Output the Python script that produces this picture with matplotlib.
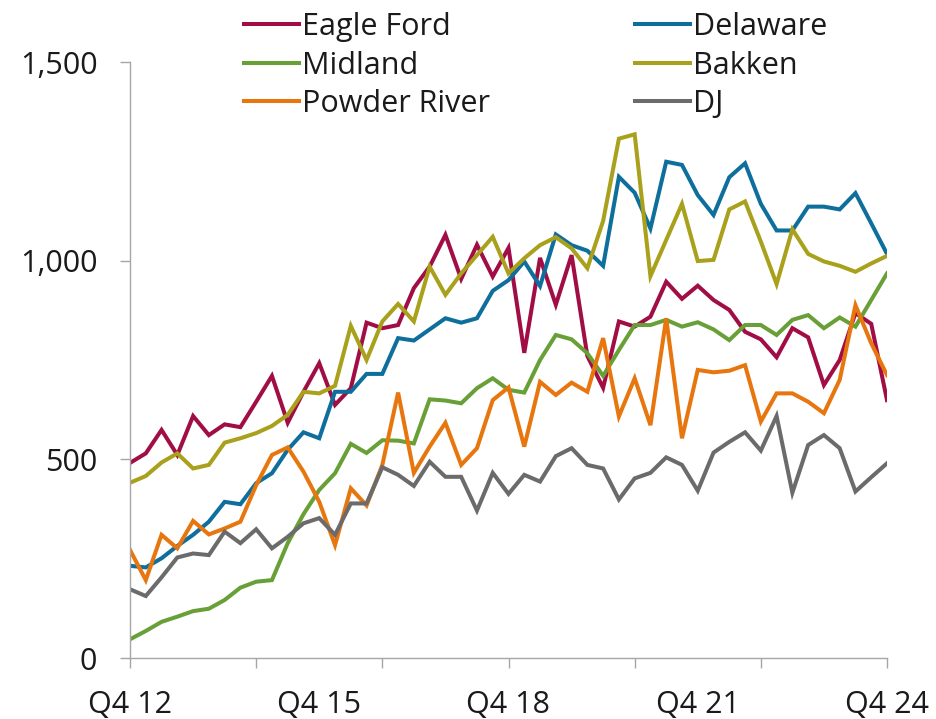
import numpy as np
import matplotlib
matplotlib.use("Agg")
import matplotlib.pyplot as plt
from matplotlib.ticker import FuncFormatter

plt.rcParams["font.family"] = ["Open Sans", "DejaVu Sans"]

quarters = [f"Q{q} {y % 100:02d}" for y in range(2012, 2025) for q in range(1, 5)][3:]
tick_labels = ["Q4 12", "Q4 15", "Q4 18", "Q4 21", "Q4 24"]

eagle_ford = [491, 515, 574, 511, 609, 561, 588, 581, 645, 710,
              592, 670, 742, 637, 679, 844, 830, 838, 931, 985,
              1065, 954, 1040, 960, 1032, 768, 1007, 889, 1014, 760,
              680, 847, 834, 859, 947, 904, 937, 901, 876, 821,
              802, 757, 830, 807, 687, 750, 868, 841, 649]
delaware = [232, 228, 251, 282, 310, 343, 393, 387, 440, 465,
            524, 568, 553, 670, 670, 715, 715, 805, 799, 827,
            855, 844, 855, 924, 951, 998, 936, 1066, 1039, 1025,
            987, 1211, 1171, 1081, 1249, 1241, 1165, 1115, 1210, 1245,
            1143, 1076, 1076, 1136, 1136, 1129, 1170, 1094, 1017]
midland = [47, 68, 91, 104, 118, 124, 146, 177, 192, 196,
           289, 362, 423, 465, 539, 516, 548, 547, 540, 651,
           648, 641, 679, 704, 675, 668, 750, 813, 802, 767,
           710, 775, 838, 838, 851, 834, 845, 827, 800, 838,
           838, 813, 851, 863, 830, 857, 834, 901, 968]
bakken = [441, 458, 492, 515, 477, 486, 542, 553, 566, 584,
          612, 670, 666, 685, 836, 750, 847, 891, 847, 985,
          914, 968, 1014, 1060, 968, 1006, 1039, 1059, 1031, 981,
          1100, 1307, 1318, 961, 1052, 1143, 999, 1002, 1129, 1149,
          1048, 941, 1079, 1017, 998, 987, 972, 993, 1012]
powder_river = [272, 196, 310, 276, 345, 311, 326, 343, 435, 511,
                530, 469, 393, 284, 427, 384, 486, 668, 466, 532,
                592, 486, 528, 649, 681, 532, 695, 662, 693, 670,
                805, 608, 704, 586, 855, 553, 725, 719, 723, 737,
                595, 666, 666, 645, 616, 700, 888, 792, 712]
dj = [173, 156, 203, 253, 263, 259, 318, 289, 324, 276,
      305, 339, 352, 310, 389, 389, 480, 461, 433, 494,
      456, 456, 371, 466, 413, 461, 444, 508, 528, 486,
      477, 399, 452, 466, 505, 486, 421, 517, 544, 568,
      522, 609, 416, 536, 561, 528, 419, 455, 490]

series = [
    ("Eagle Ford", eagle_ford, "#A10D45"),
    ("Delaware", delaware, "#0E6E9C"),
    ("Midland", midland, "#68A037"),
    ("Bakken", bakken, "#A9A01C"),
    ("Powder River", powder_river, "#E8760F"),
    ("DJ", dj, "#6B6B6B"),
]

fig = plt.figure(figsize=(9.36, 7.19), dpi=100)
ax = fig.add_axes([130 / 936, 1 - 658 / 719, 757 / 936, 596 / 719])

x = np.arange(len(quarters))
lines = {}
for name, vals, color in series:
    lines[name], = ax.plot(x, vals, color=color, lw=2.9, label=name,
                           solid_joinstyle="miter")

ax.set_xlim(0, len(quarters) - 1)
ax.set_ylim(0, 1500)
ax.set_yticks([0, 500, 1000, 1500])
ax.yaxis.set_major_formatter(FuncFormatter(lambda v, p: f"{v:,.0f}"))

# labels every 3 years, tick marks every 2 years
ax.set_xticks([quarters.index(t) for t in tick_labels])
ax.set_xticklabels(tick_labels)
ax.set_xticks(np.arange(0, len(quarters), 8), minor=True)
ax.xaxis.remove_overlapping_locs = False

spine_c = "#A6A6A6"
for s in ["top", "right"]:
    ax.spines[s].set_visible(False)
for s in ["left", "bottom"]:
    ax.spines[s].set_color(spine_c)
    ax.spines[s].set_linewidth(1.0)

ax.tick_params(axis="y", direction="out", length=7.5, width=1.0, color=spine_c,
               labelsize=22, pad=16, labelcolor="#1a1a1a")
ax.tick_params(axis="x", which="major", length=0, labelsize=22, pad=23,
               labelcolor="#1a1a1a")
ax.tick_params(axis="x", which="minor", direction="out", length=7.5, width=1.0,
               color=spine_c)

order = ["Eagle Ford", "Midland", "Powder River", "Delaware", "Bakken", "DJ"]
leg = ax.legend([lines[n] for n in order], order, ncol=2, frameon=False,
                loc="upper left", bbox_to_anchor=(244 / 936, 1 - 12 / 719),
                bbox_transform=fig.transFigure, fontsize=22,
                handlelength=1.8, handletextpad=0.1, columnspacing=4.75,
                labelspacing=0.28, borderaxespad=0.0, borderpad=0.0)
for t in leg.get_texts():
    t.set_color("#1a1a1a")

fig.savefig("out.png", dpi=100)
